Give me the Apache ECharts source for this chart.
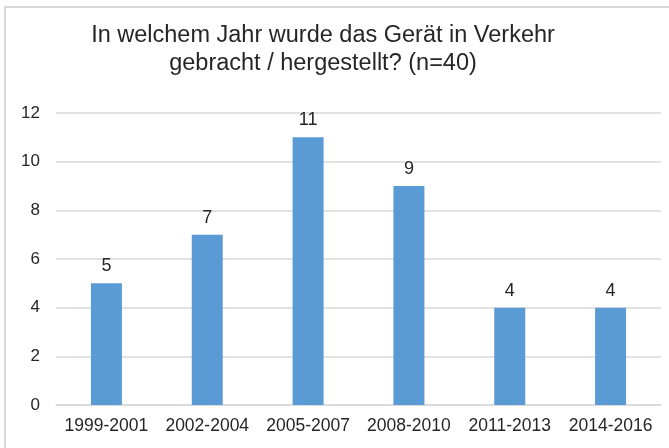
<!DOCTYPE html>
<html>
<head>
<meta charset="utf-8">
<script src="https://cdn.jsdelivr.net/npm/echarts@6/dist/echarts.min.js"></script>
<style>
  html, body { margin: 0; padding: 0; background: #ffffff; }
  #chart { width: 669px; height: 448px; }
</style>
</head>
<body>
<div id="chart"></div>
<script>
// Herstellungs- bzw. Inverkehrbringungszeitraum der Geräte
const periods = ['1999-2001', '2002-2004', '2005-2007', '2008-2010', '2011-2013', '2014-2016'];
const deviceCounts = [5, 7, 11, 9, 4, 4];
const yTicks = [0, 2, 4, 6, 8, 10, 12];

const FONT = '"Liberation Sans", Arial, sans-serif';
const chart = echarts.init(document.getElementById('chart'), null, { renderer: 'canvas' });

chart.setOption({
  backgroundColor: '#ffffff',
  animation: false,
  graphic: [{
    type: 'rect',
    shape: { x: 5, y: 7, width: 700, height: 480 },
    style: { fill: 'none', stroke: '#d9d9d9', lineWidth: 2 },
    silent: true
  }],
  title: {
    text: 'In welchem Jahr wurde das Gerät in Verkehr\ngebracht / hergestellt? (n=40)',
    left: 323,
    top: 22,
    padding: 0,
    textAlign: 'center',
    textStyle: {
      fontFamily: FONT,
      fontSize: 23.5,
      fontWeight: 'normal',
      color: '#262626',
      lineHeight: 28
    }
  },
  grid: { left: 56, right: 8, top: 113, bottom: 43, containLabel: false },
  xAxis: {
    type: 'category',
    data: periods,
    axisLine: { show: true, lineStyle: { color: '#d9d9d9', width: 1.5 } },
    axisTick: { show: false },
    axisLabel: { color: '#262626', fontFamily: FONT, fontSize: 17.5, margin: 12, interval: 0 }
  },
  yAxis: {
    type: 'value',
    min: yTicks[0],
    max: yTicks[yTicks.length - 1],
    interval: yTicks[1] - yTicks[0],
    axisLine: { show: false },
    axisTick: { show: false },
    axisLabel: { color: '#262626', fontFamily: FONT, fontSize: 17, margin: 16 },
    splitLine: { show: true, lineStyle: { color: '#d9d9d9', width: 1.5 } }
  },
  series: [{
    type: 'bar',
    data: deviceCounts,
    barWidth: 31,
    itemStyle: { color: '#5b9bd5' },
    label: {
      show: true,
      position: 'top',
      distance: 8,
      color: '#262626',
      fontFamily: FONT,
      fontSize: 18
    }
  }]
});
</script>
</body>
</html>
